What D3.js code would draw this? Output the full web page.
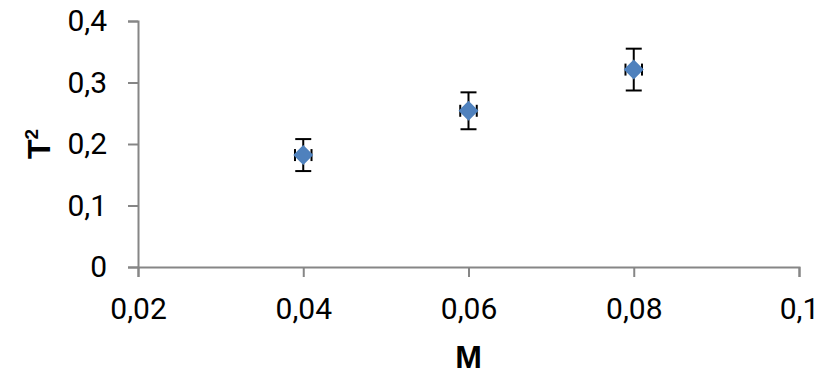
<!DOCTYPE html>
<html>
<head>
<meta charset="utf-8">
<script src="https://cdn.jsdelivr.net/npm/d3@7"></script>
<style>
  body { margin: 0; background: #fff; }
  svg { display: block; font-family: "Liberation Sans", Arial, sans-serif; }
  .axis path, .axis line { stroke: #868686; stroke-width: 2; }
  .axis text { fill: #000; font-size: 30px; font-family: Roboto, sans-serif; }
  .axis-title { font-weight: bold; font-size: 32px; fill: #000; }
</style>
</head>
<body>
<svg class="chart" width="832" height="376"></svg>
<script>
// data
var massValues = [0.04, 0.06, 0.08];
var periodSq = [0.182, 0.254, 0.321];
var errY = [0.026, 0.030, 0.034];
var errX = [0.001, 0.001, 0.001];
var xTicks = [0.02, 0.04, 0.06, 0.08, 0.1];
var yTicks = [0, 0.1, 0.2, 0.3, 0.4];

var svg = d3.select("svg.chart");
var margin = {top: 21, right: 33, bottom: 109, left: 138};
var width = 832 - margin.left - margin.right;
var height = 376 - margin.top - margin.bottom;

var x = d3.scaleLinear().domain([0.02, 0.1]).range([0, width]);
var y = d3.scaleLinear().domain([0, 0.4]).range([height, 0]);

var fmt = function(d) { return String(d).replace(".", ","); };

var g = svg.append("g")
    .attr("transform", "translate(" + margin.left + "," + margin.top + ")");

g.append("g")
    .attr("class", "axis axis-x")
    .attr("transform", "translate(0," + height + ")")
    .call(d3.axisBottom(x).tickValues(xTicks).tickFormat(fmt).tickSize(10).tickSizeOuter(10).tickPadding(21));

g.append("g")
    .attr("class", "axis axis-y")
    .call(d3.axisLeft(y).tickValues(yTicks).tickFormat(fmt).tickSize(10).tickSizeOuter(10).tickPadding(21));

var data = massValues.map(function(m, i) {
    return {m: m, t: periodSq[i], ey: errY[i], ex: errX[i]};
});

var pts = g.append("g").selectAll(".pt")
    .data(data)
    .enter().append("g")
    .attr("class", "pt");

// vertical error bars
pts.append("line")
    .attr("x1", function(d) { return x(d.m); })
    .attr("x2", function(d) { return x(d.m); })
    .attr("y1", function(d) { return y(d.t + d.ey); })
    .attr("y2", function(d) { return y(d.t - d.ey); })
    .attr("stroke", "#000").attr("stroke-width", 2);
[1, -1].forEach(function(s) {
    pts.append("line")
        .attr("x1", function(d) { return x(d.m) - 8; })
        .attr("x2", function(d) { return x(d.m) + 8; })
        .attr("y1", function(d) { return y(d.t + s * d.ey); })
        .attr("y2", function(d) { return y(d.t + s * d.ey); })
        .attr("stroke", "#000").attr("stroke-width", 2);
});

// horizontal error bars
pts.append("line")
    .attr("x1", function(d) { return x(d.m - d.ex); })
    .attr("x2", function(d) { return x(d.m + d.ex); })
    .attr("y1", function(d) { return y(d.t); })
    .attr("y2", function(d) { return y(d.t); })
    .attr("stroke", "#000").attr("stroke-width", 2);
[1, -1].forEach(function(s) {
    pts.append("line")
        .attr("x1", function(d) { return x(d.m + s * d.ex); })
        .attr("x2", function(d) { return x(d.m + s * d.ex); })
        .attr("y1", function(d) { return y(d.t) - 6; })
        .attr("y2", function(d) { return y(d.t) + 6; })
        .attr("stroke", "#000").attr("stroke-width", 2);
});

// diamond markers
pts.append("path")
    .attr("d", "M0,-10L10,0L0,10L-10,0Z")
    .attr("transform", function(d) { return "translate(" + x(d.m) + "," + y(d.t) + ")"; })
    .attr("fill", "#4f81bd");

// axis titles
svg.append("text")
    .attr("class", "axis-title")
    .attr("x", margin.left + width / 2)
    .attr("y", 368)
    .attr("text-anchor", "middle")
    .text("M");

var yTitle = svg.append("text")
    .attr("class", "axis-title")
    .attr("transform", "translate(50,144) rotate(-90)")
    .attr("text-anchor", "middle");
yTitle.append("tspan").text("T");
yTitle.append("tspan")
    .attr("dy", -12)
    .style("font-size", "19px")
    .text("2");
</script>
</body>
</html>
